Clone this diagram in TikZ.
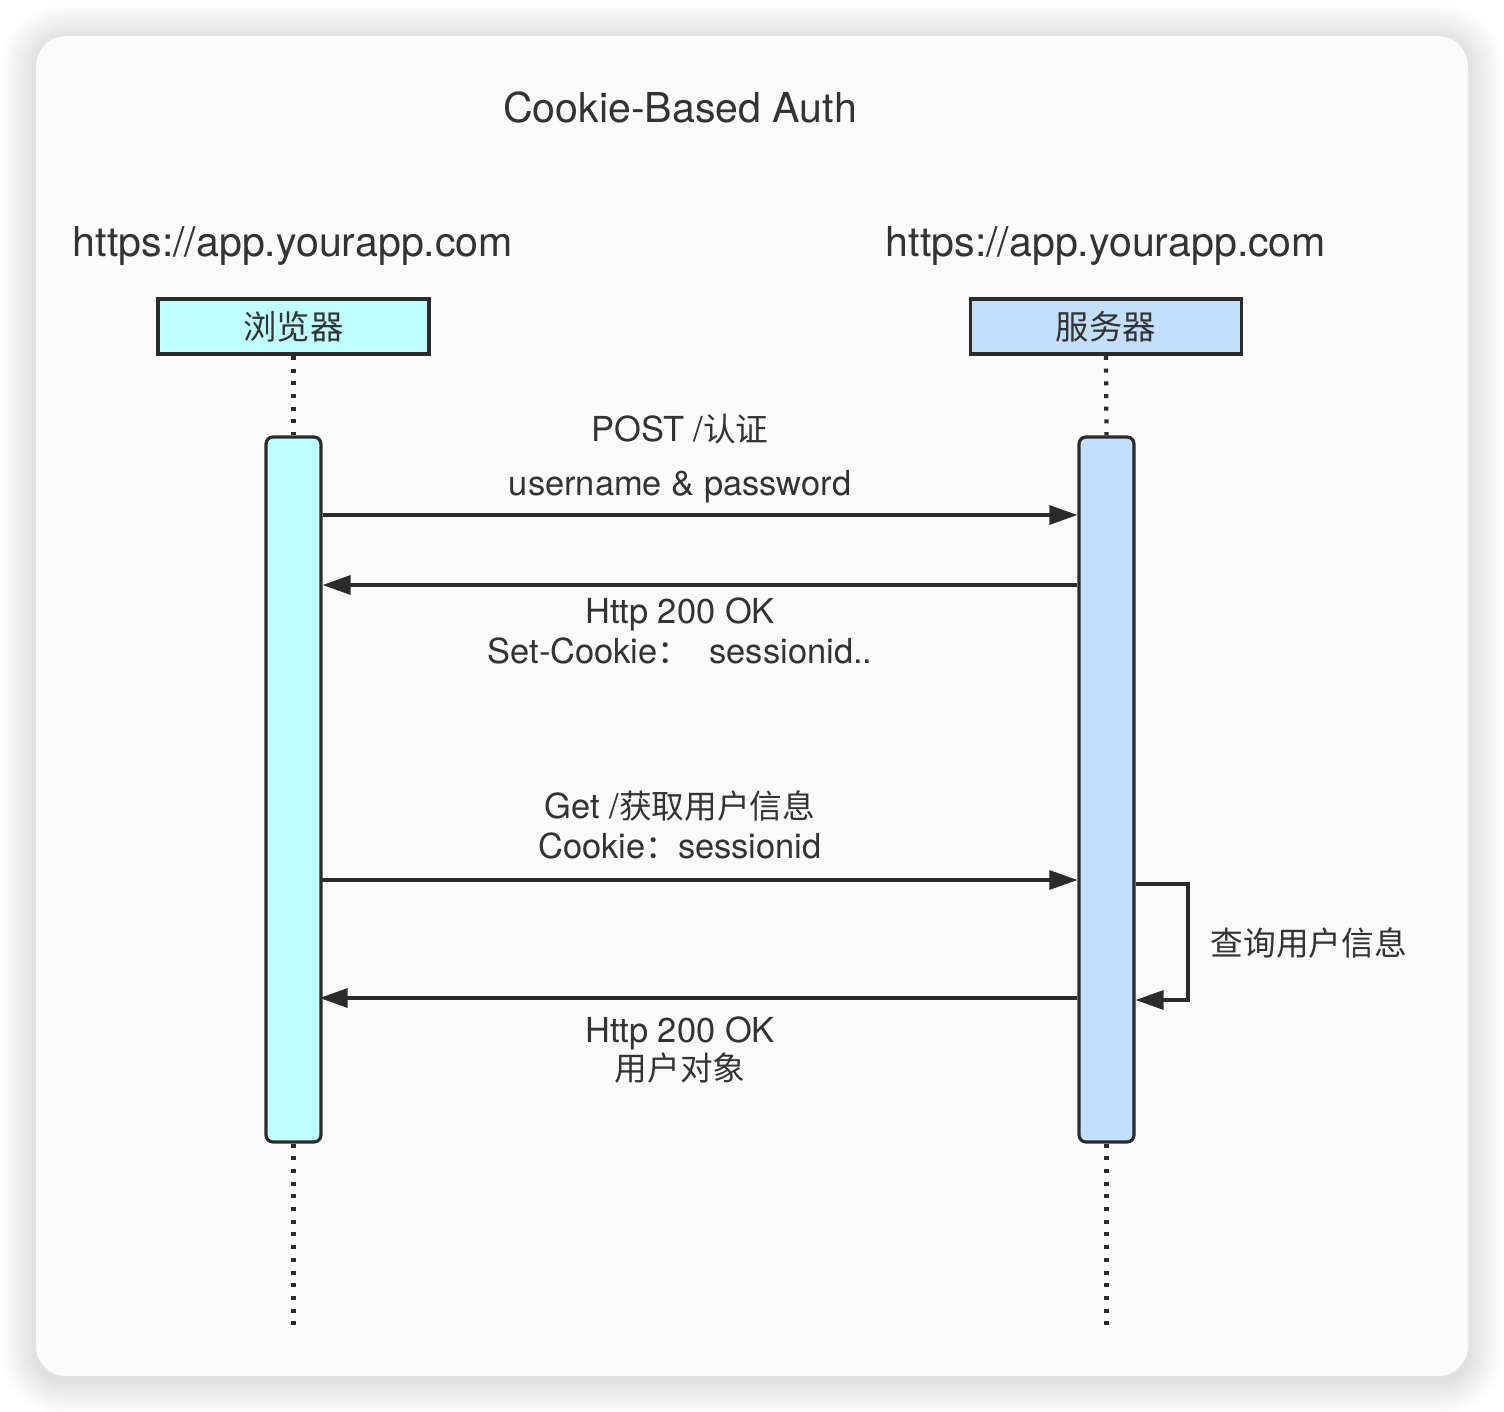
\documentclass[tikz,border=0pt]{standalone}
\usepackage{fontspec}
\setmainfont{TeX Gyre Heros}
\newfontfamily\cjk[Scale=0.95]{Noto Sans CJK SC}
\usetikzlibrary{arrows.meta}
\definecolor{ink}{HTML}{2B2B2B}
\definecolor{txt}{HTML}{333333}
\definecolor{card}{HTML}{FAFAFA}
\definecolor{browser}{HTML}{C0FFFF}
\definecolor{server}{HTML}{C4DFFC}
\tikzset{hdr/.style = {draw=ink, line width=1.1pt, minimum width=2.71cm, minimum height=0.55cm, inner sep=0pt, text=txt, font=\fontsize{10}{12}\selectfont},
         bar/.style = {draw=ink, line width=0.9pt, rounded corners=0.07cm, minimum width=0.55cm, minimum height=7.05cm, inner sep=0pt},
         life/.style = {ink, line width=1.2pt, dash pattern=on 0.04cm off 0.087cm},
         msg/.style = {ink, line width=0.9pt, -{Triangle[length=0.28cm,width=0.19cm]}},
         lbl/.style = {text=txt, font=\fontsize{9.8}{12}\selectfont, inner sep=0pt, anchor=base},
         big/.style = {text=txt, font=\fontsize{11.7}{14}\selectfont, inner sep=0pt, anchor=base}}

\begin{document}
\begin{tikzpicture}
    \useasboundingbox (0,0) rectangle (15.04,-14.12);
    \fill[white] (0,0) rectangle (15.04,-14.12);
    \foreach \s in {1,...,10}{
      \pgfmathsetmacro{\d}{\s*0.035}
      \pgfmathsetmacro{\r}{0.3+\s*0.035}
      \fill[black, opacity=0.013, rounded corners=\r cm] (0.36-\d,-0.40+\d) rectangle (14.68+\d,-13.80-\d);
    }
    \fill[card, rounded corners=0.3cm] (0.36,-0.36) rectangle (14.68,-13.76);

    \node[big] (title) at (6.80,-1.23) {Cookie-Based Auth};
    \node[big] (burl) at (2.93,-2.57) {https://app.yourapp.com};
    \node[big] (surl) at (11.06,-2.57) {https://app.yourapp.com};

    \node[hdr, fill=browser] (bhead) at (2.935,-3.265) {\cjk 浏览器};
    \node[hdr, fill=server] (shead) at (11.06,-3.265) {\cjk 服务器};
    \node[bar, fill=browser] (bbar) at (2.935,-7.895) {};
    \node[bar, fill=server] (sbar) at (11.065,-7.895) {};
    \coordinate (bend) at (2.935,-13.28);
    \coordinate (send) at (11.065,-13.28);
    \draw[life] (bhead.south) -- (bbar.north);
    \draw[life] (bbar.south) -- (bend);
    \draw[life] (shead.south) -- (sbar.north);
    \draw[life] (sbar.south) -- (send);

    \draw[msg] (bbar.east |- 0,-5.15) -- (sbar.west |- 0,-5.15);
    \node[lbl] (req1) at (6.80,-4.41) {POST /{\cjk 认证}};
    \node[lbl] (req1b) at (6.80,-4.96) {username \& password};

    \draw[msg] (sbar.west |- 0,-5.85) -- (bbar.east |- 0,-5.85);
    \node[lbl] (res1) at (6.80,-6.23) {Http 200 OK};
    \node[lbl] (res1b) at (6.80,-6.63) {Set-Cookie{\cjk ：}\ \ sessionid..};

    \node[lbl] (req2) at (6.80,-8.18) {Get /{\cjk 获取用户信息}};
    \node[lbl] (req2b) at (6.80,-8.58) {Cookie{\cjk ：}sessionid};
    \draw[msg] ([xshift=-0.03cm]bbar.east |- 0,-8.80) -- (sbar.west |- 0,-8.80);

    \coordinate (loopa) at (11.88,-8.84);
    \coordinate (loopb) at (11.88,-10.00);
    \draw[msg] (sbar.east |- loopa) -- (loopa) -- (loopb) -- (sbar.east |- loopb);
    \node[lbl, anchor=base west] (query) at (12.10,-9.55) {\cjk 查询用户信息};

    \draw[msg] (sbar.west |- 0,-9.98) -- ([xshift=-0.03cm]bbar.east |- 0,-9.98);
    \node[lbl] (res2) at (6.80,-10.42) {Http 200 OK};
    \node[lbl] (res2b) at (6.80,-10.80) {\cjk 用户对象};
\end{tikzpicture}
\end{document}
